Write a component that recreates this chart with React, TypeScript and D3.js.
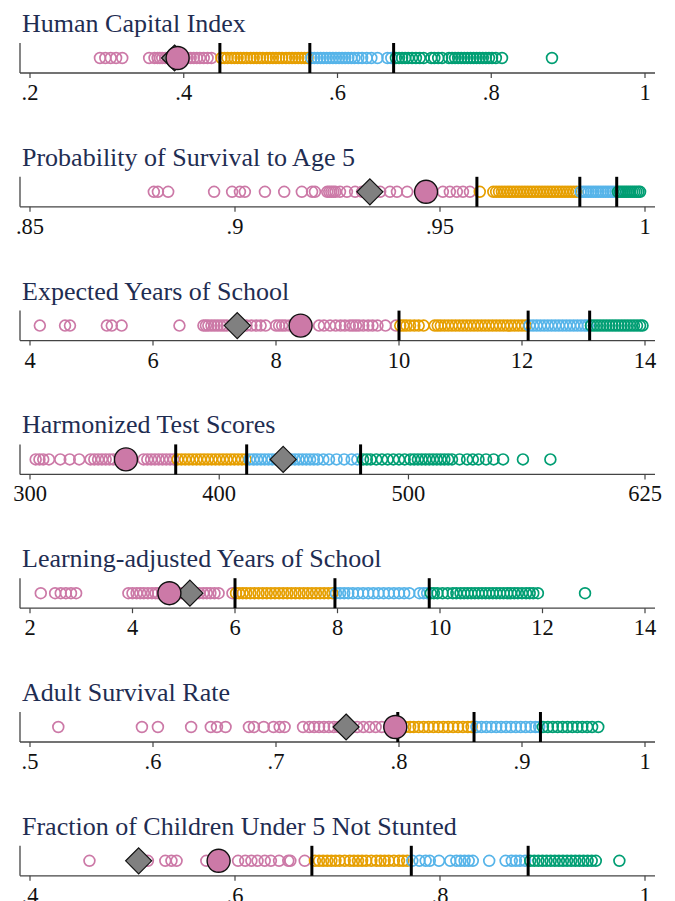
import React from 'react';
import * as d3 from 'd3';

// quartile colours (low -> high)
const quartileColors = ['#cc79a7', '#e69f00', '#56b4e9', '#009e73'];

const titles = [
  'Human Capital Index',
  'Probability of Survival to Age 5',
  'Expected Years of School',
  'Harmonized Test Scores',
  'Learning-adjusted Years of School',
  'Adult Survival Rate',
  'Fraction of Children Under 5 Not Stunted',
];

const domains: [number, number][] = [
  [0.2, 1], [0.85, 1], [4, 14], [300, 625], [2, 14], [0.5, 1], [0.4, 1],
];

const tickValues = [
  [0.2, 0.4, 0.6, 0.8, 1],
  [0.85, 0.9, 0.95, 1],
  [4, 6, 8, 10, 12, 14],
  [300, 400, 500, 625],
  [2, 4, 6, 8, 10, 12, 14],
  [0.5, 0.6, 0.7, 0.8, 0.9, 1],
  [0.4, 0.6, 0.8, 1],
];

// quartile cut points per indicator
const thresholds = [
  [0.447, 0.564, 0.673],
  [0.959, 0.9841, 0.9931],
  [10.0, 12.1, 13.1],
  [377, 414.5, 474.7],
  [6.0, 7.95, 9.79],
  [0.799, 0.861, 0.915],
  [0.675, 0.772, 0.886],
];

// gray diamond and highlighted circle
const diamondValues = [0.388, 0.9329, 7.37, 433.8, 5.12, 0.757, 0.506];
const circleValues = [0.392, 0.9466, 8.4, 350.7, 4.72, 0.797, 0.584];

const hciValues = [
  0.291, 0.298, 0.305, 0.312, 0.32, 0.355, 0.362, 0.366, 0.369, 0.372, 0.376, 0.379, 0.383, 0.386,
  0.39, 0.394, 0.397, 0.401, 0.405, 0.409, 0.413, 0.417, 0.421, 0.426, 0.431, 0.436,
  0.449, 0.453, 0.457, 0.462, 0.466, 0.47, 0.474, 0.478, 0.482, 0.487, 0.491, 0.495, 0.499, 0.503,
  0.508, 0.512, 0.516, 0.52, 0.524, 0.528, 0.533, 0.537, 0.541, 0.545, 0.549, 0.553, 0.557, 0.561,
  0.566, 0.57, 0.574, 0.578, 0.582, 0.586, 0.59, 0.594, 0.598, 0.602, 0.606, 0.61, 0.614, 0.618,
  0.622, 0.627, 0.632, 0.638, 0.644, 0.652, 0.665, 0.67,
  0.676, 0.68, 0.684, 0.688, 0.692, 0.697, 0.702, 0.707, 0.712, 0.722, 0.726, 0.731, 0.736, 0.745,
  0.749, 0.753, 0.757, 0.761, 0.765, 0.769, 0.773, 0.777, 0.781, 0.785, 0.789, 0.793, 0.797, 0.801,
  0.806, 0.814, 0.879,
];

const survival5Values = [
  0.8802, 0.8812, 0.8837, 0.8949, 0.8993, 0.9012, 0.9024, 0.9073, 0.912, 0.9163, 0.9188, 0.9195,
  0.9225, 0.923, 0.9235, 0.924, 0.9245, 0.9256, 0.9273, 0.9293, 0.931, 0.9329, 0.9354, 0.9378,
  0.9395, 0.942, 0.9451, 0.9507, 0.9524, 0.9541, 0.9556, 0.9573,
  0.9597, 0.963, 0.9637, 0.9644, 0.9651, 0.9658, 0.9665, 0.9672, 0.9679, 0.9686, 0.9693, 0.97,
  0.9707, 0.9714, 0.9721, 0.9728, 0.9735, 0.9742, 0.9749, 0.9756, 0.9763, 0.977, 0.9777, 0.9784,
  0.9791, 0.9798, 0.9805, 0.9812, 0.9819, 0.9826, 0.9833,
  0.9843, 0.985, 0.9856, 0.9862, 0.9868, 0.9874, 0.988, 0.9886, 0.9892, 0.9898, 0.9904, 0.991,
  0.9916, 0.9922, 0.9928,
  0.9934, 0.9939, 0.9944, 0.9949, 0.9954, 0.9959, 0.9964, 0.9969, 0.9974, 0.9979, 0.9984, 0.9988,
];

const schoolYearsValues = [
  4.16, 4.57, 4.65, 5.25, 5.33, 5.49, 6.43, 6.82, 6.86, 6.9, 6.95, 7.0, 7.05, 7.1, 7.15, 7.2, 7.3,
  7.45, 7.52, 7.6, 7.68, 7.75, 7.83, 8.0, 8.05, 8.1, 8.15, 8.22, 8.7, 8.78, 8.88, 8.97, 9.05, 9.12,
  9.2, 9.25, 9.3, 9.35, 9.42, 9.5, 9.57, 9.65, 9.78, 9.95,
  10.02, 10.07, 10.12, 10.18, 10.25, 10.32, 10.4, 10.58, 10.63, 10.68, 10.74, 10.8, 10.86, 10.92,
  10.98, 11.04, 11.1, 11.16, 11.22, 11.28, 11.34, 11.4, 11.46, 11.52, 11.58, 11.64, 11.7, 11.76,
  11.82, 11.88, 11.94, 12.0, 12.06,
  12.12, 12.18, 12.24, 12.3, 12.36, 12.42, 12.48, 12.54, 12.6, 12.66, 12.72, 12.78, 12.84, 12.9,
  12.96, 13.02, 13.07,
  13.12, 13.17, 13.22, 13.27, 13.32, 13.37, 13.42, 13.47, 13.52, 13.57, 13.62, 13.67, 13.72, 13.77,
  13.82, 13.87, 13.92, 13.96,
];

const testScoreValues = [
  303, 305, 307, 310, 316, 321, 326, 332, 334, 336, 338, 340, 342, 344, 360, 362, 364, 366, 368,
  370, 372, 374, 376,
  378, 380, 382, 384, 386, 388, 390, 392, 394, 396, 398, 400, 402, 404, 406, 408, 410, 412, 414,
  416, 418, 420, 422, 424, 426, 428, 430, 432, 434, 436, 438, 440, 442, 444, 446, 448, 450, 452,
  455, 458, 462, 466, 470, 473,
  476, 478, 480, 483, 486, 489, 492, 495, 498, 501, 503, 505, 507, 509, 511, 513, 515, 517, 519,
  521, 523, 527, 531, 534, 537, 541, 545, 550, 560.5, 575,
];

const lays = [
  2.21, 2.49, 2.6, 2.7, 2.8, 2.9, 3.92, 4.0, 4.08, 4.15, 4.22, 4.3, 4.38, 4.45, 4.5, 4.58, 4.65,
  4.85, 4.95, 5.05, 5.15, 5.22, 5.3, 5.38, 5.45, 5.52, 5.6, 5.68, 5.95,
  6.02, 6.08, 6.15, 6.22, 6.3, 6.38, 6.46, 6.54, 6.62, 6.7, 6.78, 6.86, 6.94, 7.02, 7.1, 7.18,
  7.26, 7.34, 7.42, 7.5, 7.58, 7.66, 7.74, 7.82, 7.9,
  7.97, 8.05, 8.13, 8.21, 8.3, 8.4, 8.5, 8.6, 8.7, 8.8, 8.9, 9.0, 9.1, 9.2, 9.3, 9.4, 9.6, 9.68, 9.75,
  9.82, 9.88, 9.95, 10.05, 10.15, 10.25, 10.32, 10.4, 10.47, 10.54, 10.61, 10.68, 10.75, 10.82,
  10.89, 10.96, 11.03, 11.1, 11.17, 11.24, 11.31, 11.38, 11.45, 11.52, 11.6, 11.68, 11.75, 11.82,
  11.91, 12.83,
];

const adultSurvivalValues = [
  0.523, 0.591, 0.604, 0.631, 0.647, 0.652, 0.659, 0.678, 0.682, 0.69, 0.698, 0.703, 0.707, 0.722,
  0.727, 0.731, 0.735, 0.739, 0.743, 0.747, 0.751, 0.756, 0.761, 0.766, 0.771, 0.776, 0.781, 0.786,
  0.792,
  0.801, 0.805, 0.809, 0.812, 0.816, 0.82, 0.824, 0.828, 0.832, 0.836, 0.84, 0.844, 0.848, 0.852,
  0.856, 0.859,
  0.863, 0.867, 0.871, 0.875, 0.879, 0.883, 0.887, 0.891, 0.895, 0.899, 0.903, 0.907, 0.911, 0.914,
  0.917, 0.921, 0.925, 0.929, 0.933, 0.937, 0.941, 0.945, 0.949, 0.953, 0.957, 0.962,
];

const notStuntedValues = [
  0.458, 0.505, 0.515, 0.532, 0.538, 0.543, 0.572, 0.603, 0.61, 0.616, 0.622, 0.629, 0.635, 0.643,
  0.652, 0.654, 0.668,
  0.678, 0.682, 0.686, 0.69, 0.694, 0.698, 0.702, 0.707, 0.712, 0.716, 0.72, 0.724, 0.728, 0.733,
  0.738, 0.742, 0.746, 0.75, 0.755, 0.76, 0.764, 0.768,
  0.773, 0.78, 0.786, 0.79, 0.799, 0.81, 0.816, 0.82, 0.824, 0.828, 0.832, 0.848, 0.864, 0.87,
  0.874, 0.878, 0.883,
  0.888, 0.892, 0.896, 0.9, 0.904, 0.908, 0.912, 0.916, 0.92, 0.924, 0.928, 0.932, 0.936, 0.94,
  0.944, 0.948, 0.952, 0.975,
];

const seriesValues = [
  hciValues, survival5Values, schoolYearsValues, testScoreValues, lays,
  adultSurvivalValues, notStuntedValues,
];

const W = 675;
const H = 901;
const PANEL_STEP = 133.8;
const AXIS_Y0 = 73;
const BAND = 30; // height of the strip above the axis
const SERIF = "Liberation Serif, DejaVu Serif, Times New Roman, serif";

const fmt = (v: number) => String(v).replace(/^0\./, '.');

function Panel({ i }: { i: number }) {
  const axisY = AXIS_Y0 + PANEL_STEP * i;
  const cy = axisY - BAND / 2;
  const x = d3.scaleLinear().domain(domains[i]).range([30, 645]);
  const color = d3.scaleThreshold<number, string>().domain(thresholds[i]).range(quartileColors);
  const dx = x(diamondValues[i]);
  const diamond = `M${dx},${cy - 13} L${dx + 13},${cy} L${dx},${cy + 13} L${dx - 13},${cy} Z`;

  return (
    <g>
      <text x={22} y={axisY - 41} style={{ fontFamily: SERIF, fontSize: 26 }} fill="#1f2d52">
        {titles[i]}
      </text>
      <line x1={20} x2={20} y1={axisY - BAND} y2={axisY} stroke="#444" strokeWidth={1.3} />
      <line x1={20} x2={655} y1={axisY} y2={axisY} stroke="#444" strokeWidth={1.3} />
      {tickValues[i].map((t) => (
        <g key={t}>
          <line x1={x(t)} x2={x(t)} y1={axisY} y2={axisY + 5} stroke="#444" strokeWidth={1.2} />
          <text x={x(t)} y={axisY + 27} textAnchor="middle" style={{ fontFamily: SERIF, fontSize: 22.5 }}
            fill="#111">{fmt(t)}</text>
        </g>
      ))}
      {seriesValues[i].map((v, k) => (
        <circle key={k} cx={x(v)} cy={cy} r={5.4} fill="none" stroke={color(v)} strokeWidth={1.7} />
      ))}
      {thresholds[i].map((t) => (
        <line key={t} x1={x(t)} x2={x(t)} y1={axisY - BAND} y2={axisY} stroke="#000" strokeWidth={3} />
      ))}
      <path d={diamond} fill="#808080" stroke="#111" strokeWidth={1.2} />
      <circle cx={x(circleValues[i])} cy={cy} r={11.5} fill="#cc79a7" stroke="#111" strokeWidth={1.4} />
    </g>
  );
}

export default function App() {
  return (
    <svg width={W} height={H} style={{ position: 'absolute', left: 0, top: 0, background: '#fff' }}>
      {titles.map((_, i) => <Panel key={i} i={i} />)}
    </svg>
  );
}
